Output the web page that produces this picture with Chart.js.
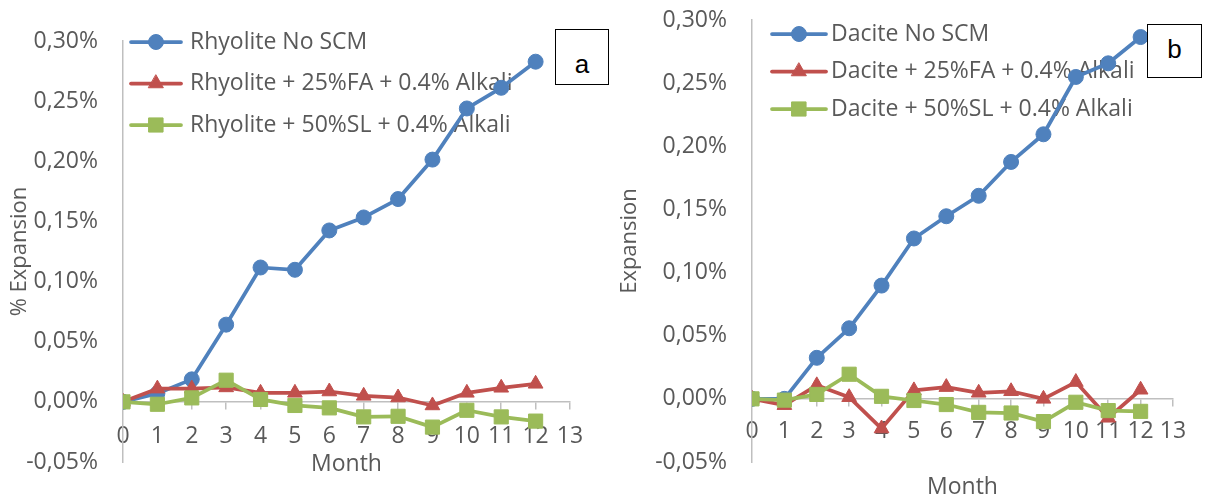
<!DOCTYPE html>
<html>
<head>
<meta charset="utf-8">
<script src="https://cdn.jsdelivr.net/npm/chart.js@4/dist/chart.umd.min.js"></script>
<style>
    html, body { margin: 0; padding: 0; background: #fff; }
    #page { position: relative; width: 1205px; height: 501px; overflow: hidden; }
    #page canvas { position: absolute; top: 0; }
    .tag {
        position: absolute;
        box-sizing: border-box;
        border: 1px solid #000;
        background: #fff;
        color: #000;
        font-family: "Liberation Sans", Arial, sans-serif;
        font-size: 26px;
        line-height: 26px;
        text-align: center;
    }
</style>
</head>
<body>
<div id="page">
    <canvas id="chartA" width="605" height="501" style="left:0"></canvas>
    <canvas id="chartB" width="600" height="501" style="left:605px"></canvas>
    <div class="tag" style="left:555px;top:29px;width:54px;height:56px;padding-top:21px">a</div>
    <div class="tag" style="left:1147px;top:24px;width:55px;height:54px;padding-top:11px">b</div>
</div>
<script>
// months on the x axis
const months = [0, 1, 2, 3, 4, 5, 6, 7, 8, 9, 10, 11, 12];

// % expansion, chart a (rhyolite)
const rhyoliteNoScm = [0, 0.007, 0.0187, 0.0642, 0.1117, 0.1098, 0.1425, 0.1533, 0.1686, 0.2014, 0.2439, 0.2611, 0.2828];
const rhyoliteFa    = [0, 0.011, 0.011, 0.012, 0.0075, 0.0075, 0.0086, 0.005, 0.0036, -0.003, 0.0075, 0.0117, 0.015];
const rhyoliteSl    = [0, -0.002, 0.0033, 0.018, 0.002, -0.003, -0.005, -0.0125, -0.012, -0.021, -0.007, -0.0125, -0.016];

// expansion, chart b (dacite)
const daciteNoScm = [0, 0, 0.0325, 0.0559, 0.0897, 0.127, 0.1446, 0.1608, 0.1876, 0.2095, 0.2549, 0.2657, 0.2865];
const daciteFa    = [0, -0.005, 0.0107, 0.0013, -0.0235, 0.0067, 0.0093, 0.0048, 0.006, 0, 0.0133, -0.015, 0.0072];
const daciteSl    = [0, -0.001, 0.0035, 0.0195, 0.002, -0.0013, -0.0045, -0.0107, -0.0112, -0.018, -0.0027, -0.0093, -0.0099];

const seriesLabels = {
    a: ["Rhyolite No SCM", "Rhyolite + 25%FA + 0.4% Alkali", "Rhyolite + 50%SL + 0.4% Alkali"],
    b: ["Dacite No SCM", "Dacite + 25%FA + 0.4% Alkali", "Dacite + 50%SL + 0.4% Alkali"],
};

const TEXT  = "#595959";
const AXIS  = "#BFBFBF";
const FONT  = "Open Sans";
const STYLES = [
    { color: "#4F81BD", pointStyle: "circle",   radius: 7.5 },
    { color: "#C0504D", pointStyle: "triangle", radius: 8.5 },
    { color: "#9BBB59", pointStyle: "rect",     radius: 10 },
];

/**
 * Draws one marker the same way Chart.js does.
 */
function drawMarker(ctx, style, radius, x, y)
{
    ctx.beginPath();
    if (style === "circle") {
        ctx.arc(x, y, radius, 0, Math.PI * 2);
    } else if (style === "triangle") {
        ctx.moveTo(x, y - radius);
        ctx.lineTo(x + Math.sin(Math.PI * 2 / 3) * radius, y + radius / 2);
        ctx.lineTo(x - Math.sin(Math.PI * 2 / 3) * radius, y + radius / 2);
    } else {
        const s = radius * Math.SQRT1_2;
        ctx.rect(x - s, y - s, 2 * s, 2 * s);
    }
    ctx.closePath();
    ctx.fill();
    ctx.stroke();
}

/**
 * Legend drawn inside the plot area, under the lines.
 */
const insideLegend = {
    id: "insideLegend",
    beforeDatasetsDraw(chart, args, opts)
    {
        const ctx = chart.ctx;
        ctx.save();
        ctx.font = "23px '" + FONT + "'";
        ctx.textBaseline = "middle";
        chart.data.datasets.forEach((ds, i) => {
            const y = opts.top + i * opts.rowGap;
            ctx.strokeStyle = ds.borderColor;
            ctx.lineWidth   = ds.borderWidth;
            ctx.lineCap     = "round";
            ctx.beginPath();
            ctx.moveTo(opts.x0, y);
            ctx.lineTo(opts.x1, y);
            ctx.stroke();

            ctx.fillStyle = ds.borderColor;
            ctx.lineWidth = 1;
            drawMarker(ctx, ds.pointStyle, ds.pointRadius, (opts.x0 + opts.x1) / 2, y);

            ctx.fillStyle = TEXT;
            ctx.fillText(ds.label, opts.textX, y);
        });
        ctx.restore();
    }
};

/**
 * Builds one panel.
 */
function makeChart(id, labels, values, layout)
{
    const datasets = values.map((series, i) => ({
        label: labels[i],
        data: months.map((m, j) => ({ x: m, y: series[j] })),
        borderColor: STYLES[i].color,
        backgroundColor: STYLES[i].color,
        pointBackgroundColor: STYLES[i].color,
        pointBorderColor: STYLES[i].color,
        pointBorderWidth: 1,
        pointStyle: STYLES[i].pointStyle,
        pointRadius: STYLES[i].radius,
        borderWidth: 3.75,
        borderJoinStyle: "round",
        borderCapStyle: "round",
        tension: 0,
        order: 2 - i,
    }));

    return new Chart(document.getElementById(id), {
        type: "line",
        data: { datasets },
        plugins: [insideLegend],
        options: {
            responsive: false,
            animation: false,
            events: [],
            layout: { padding: layout.padding },
            plugins: {
                legend: { display: false },
                tooltip: { enabled: false },
                insideLegend: layout.legend,
            },
            scales: {
                x: {
                    type: "linear",
                    min: 0,
                    max: 13,
                    position: { y: 0 },
                    ticks: {
                        stepSize: 1,
                        padding: layout.xTickPad,
                        color: TEXT,
                        font: { family: FONT, size: 23 },
                    },
                    grid: {
                        drawOnChartArea: false,
                        drawTicks: true,
                        tickLength: 7,
                        color: AXIS,
                        lineWidth: 1.5,
                    },
                    border: { color: AXIS, width: 1.5 },
                    title: {
                        display: true,
                        text: "Month",
                        color: TEXT,
                        font: { family: FONT, size: 23 },
                        padding: { top: layout.xTitlePad, bottom: 0 },
                    },
                },
                y: {
                    min: -0.05,
                    max: 0.30,
                    ticks: {
                        stepSize: 0.05,
                        padding: 25,
                        color: TEXT,
                        font: { family: FONT, size: 23 },
                        callback: (v) => (Math.abs(v) < 1e-9 ? 0 : v).toFixed(2).replace(".", ",") + "%",
                    },
                    grid: { display: false, drawTicks: false },
                    border: { display: true, color: AXIS, width: 1.5 },
                    title: {
                        display: true,
                        text: layout.yTitle,
                        color: TEXT,
                        font: { family: FONT, size: 22 },
                        padding: { top: layout.yTitlePad, bottom: 0 },
                    },
                    afterFit(scale) {
                        scale.width = layout.axisX;
                        scale.paddingTop = 0;
                        scale.paddingBottom = 0;
                    },
                },
            },
        },
    });
}

makeChart("chartA", seriesLabels.a, [rhyoliteNoScm, rhyoliteFa, rhyoliteSl], {
    padding: { top: 41, bottom: 39, left: 0, right: 35 },
    axisX: 123,
    xTickPad: 14,
    xTitlePad: -14,
    yTitle: "% Expansion",
    yTitlePad: 7,
    legend: { x0: 131, x1: 181, textX: 190, top: 42, rowGap: 41.5 },
});

makeChart("chartB", seriesLabels.b, [daciteNoScm, daciteFa, daciteSl], {
    padding: { top: 20, bottom: 39, left: 0, right: 32 },
    axisX: 147,
    xTickPad: 12,
    xTitlePad: 16,
    yTitle: "Expansion",
    yTitlePad: 12,
    legend: { x0: 167, x1: 221, textX: 226, top: 34, rowGap: 37.5 },
});
</script>
</body>
</html>
